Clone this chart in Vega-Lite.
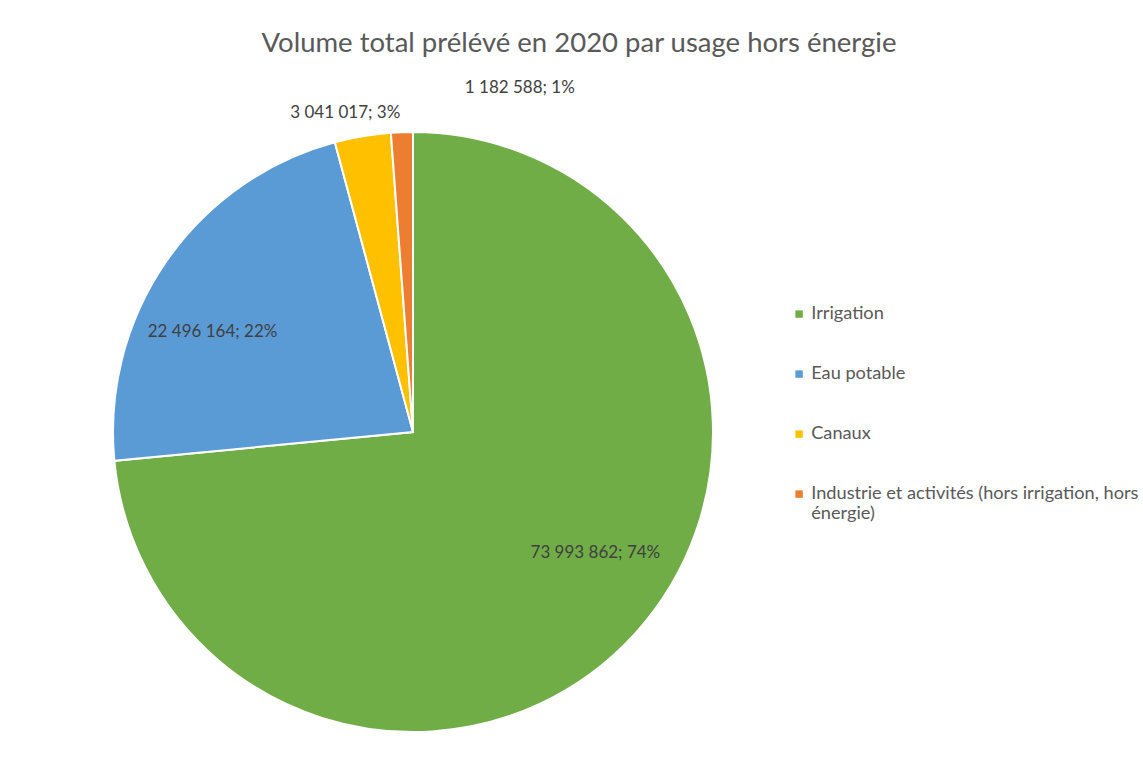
{
  "$schema": "https://vega.github.io/schema/vega-lite/v6.json",
  "width": 600,
  "height": 600,
  "autosize": {"type": "none"},
  "padding": {"left": 113, "top": 132, "right": 430, "bottom": 26},
  "background": "white",
  "title": {
    "text": "Volume total prélévé en 2020 par usage hors énergie",
    "font": "Lato",
    "fontSize": 27.5,
    "fontWeight": "normal",
    "color": "#595959",
    "anchor": "middle",
    "frame": "group",
    "dx": 166,
    "offset": 0,
    "baseline": "alphabetic"
  },
  "config": {"view": {"stroke": null}},
  "data": {
    "values": [
      {"usage": "Irrigation", "value": 73993862, "label": "73 993 862; 74%"},
      {"usage": "Eau potable", "value": 22496164, "label": "22 496 164; 22%"},
      {"usage": "Canaux", "value": 3041017, "label": "3 041 017; 3%"},
      {"usage": "Industrie et activités (hors irrigation, hors énergie)", "value": 1182588, "label": "1 182 588; 1%"}
    ]
  },
  "layer": [
    {
      "mark": {"type": "arc", "outerRadius": 300, "stroke": "white", "strokeWidth": 2},
      "encoding": {
        "theta": {"field": "value", "type": "quantitative", "stack": true},
        "order": {"field": "value", "type": "quantitative", "sort": "descending"},
        "color": {
          "field": "usage",
          "type": "nominal",
          "sort": ["Irrigation", "Eau potable", "Canaux", "Industrie et activités (hors irrigation, hors énergie)"],
          "scale": {
            "domain": ["Irrigation", "Eau potable", "Canaux", "Industrie et activités (hors irrigation, hors énergie)"],
            "range": ["#70AD47", "#5B9BD5", "#FFC000", "#ED7D31"]
          },
          "legend": {
            "title": null,
            "orient": "none",
            "legendX": 677,
            "legendY": 173,
            "padding": 0,
            "symbolType": "square",
            "symbolSize": 55,
            "symbolStrokeWidth": 0,
            "labelFont": "Lato",
            "labelFontSize": 18.2,
            "labelColor": "#595959",
            "labelOffset": 3,
            "labelLimit": 500,
            "rowPadding": 41,
            "labelExpr": "datum.label == 'Industrie et activités (hors irrigation, hors énergie)' ? ['Industrie et activités (hors irrigation, hors', 'énergie)'] : datum.label"
          }
        }
      }
    },
    {
      "mark": {"type": "text", "radius": 218, "dx": 21, "dy": -26, "font": "Lato", "fontSize": 17, "color": "#404040"},
      "encoding": {
        "theta": {"field": "value", "type": "quantitative", "stack": true},
        "order": {"field": "value", "type": "quantitative", "sort": "descending"},
        "text": {"condition": {"test": "datum.usage === 'Irrigation'", "field": "label"}, "value": ""}
      }
    },
    {
      "mark": {"type": "text", "radius": 200, "dx": -36, "dy": 14, "font": "Lato", "fontSize": 17, "color": "#404040"},
      "encoding": {
        "theta": {"field": "value", "type": "quantitative", "stack": true},
        "order": {"field": "value", "type": "quantitative", "sort": "descending"},
        "text": {"condition": {"test": "datum.usage === 'Eau potable'", "field": "label"}, "value": ""}
      }
    },
    {
      "mark": {"type": "text", "radius": 320, "dx": -14, "dy": -4, "font": "Lato", "fontSize": 17, "color": "#404040"},
      "encoding": {
        "theta": {"field": "value", "type": "quantitative", "stack": true},
        "order": {"field": "value", "type": "quantitative", "sort": "descending"},
        "text": {"condition": {"test": "datum.usage === 'Canaux'", "field": "label"}, "value": ""}
      }
    },
    {
      "mark": {"type": "text", "radius": 330, "dx": 64, "dy": -14, "align": "left", "font": "Lato", "fontSize": 17, "color": "#404040"},
      "encoding": {
        "theta": {"field": "value", "type": "quantitative", "stack": true},
        "order": {"field": "value", "type": "quantitative", "sort": "descending"},
        "text": {"condition": {"test": "datum.usage === 'Industrie et activités (hors irrigation, hors énergie)'", "field": "label"}, "value": ""}
      }
    }
  ]
}
